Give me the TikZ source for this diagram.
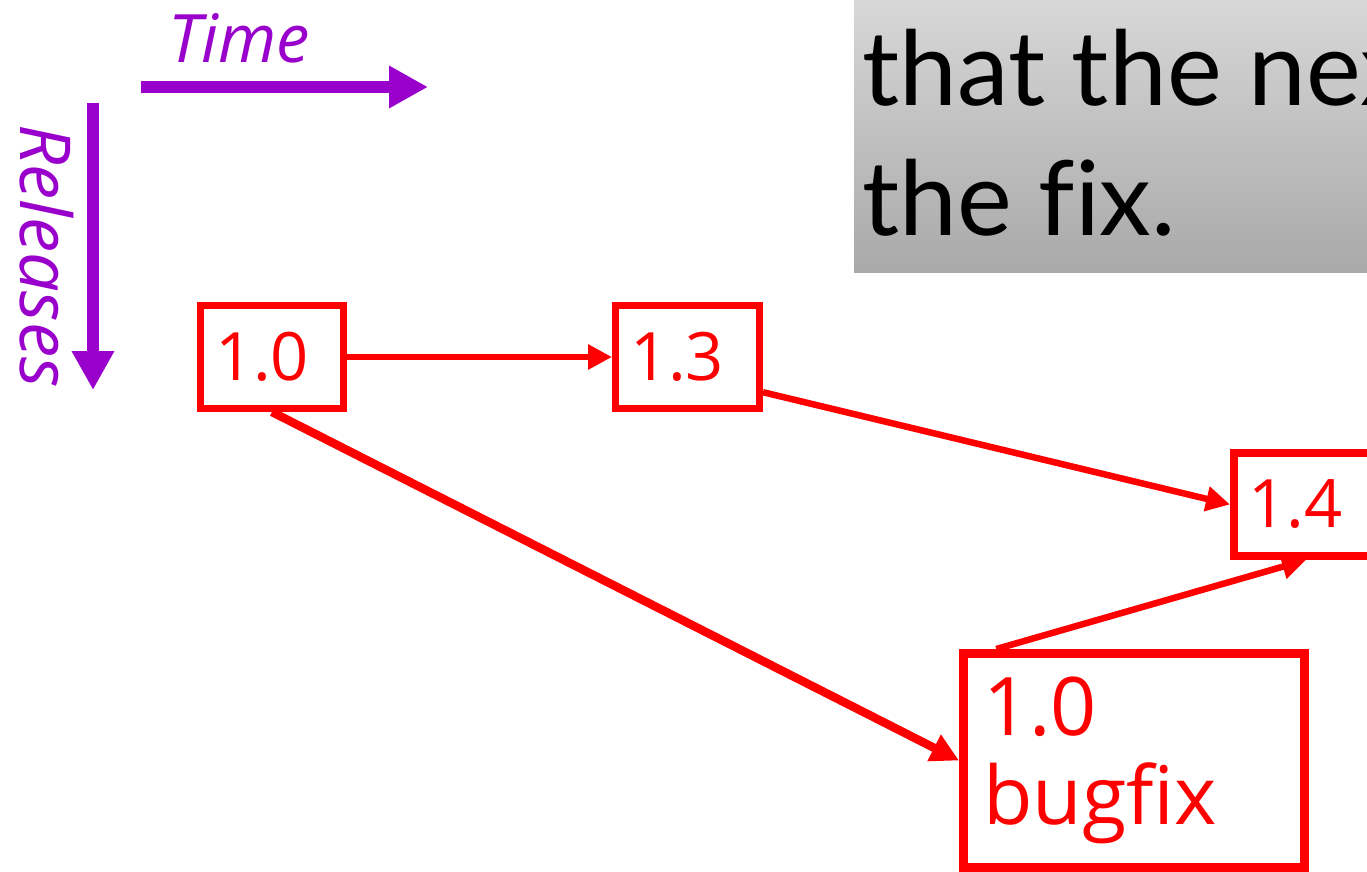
\documentclass[tikz,border=0pt]{standalone}
\usepackage{fontspec}
\setmainfont{Open Sans}
\newfontfamily\gillfont[Ligatures=NoCommon]{Lato}
\usetikzlibrary{arrows.meta}
\definecolor{vio}{RGB}{153,0,204}
\definecolor{rd}{RGB}{255,0,0}
\definecolor{grtop}{RGB}{214,215,214}
\definecolor{grbot}{RGB}{168,169,168}
\begin{document}
\begin{tikzpicture}[x=0.02cm,y=-0.02cm,
  ver/.style={draw=rd, text=rd, line width=0.14cm, minimum height=2.06cm,
    inner xsep=0.29cm, inner ysep=0pt, align=left, font=\fontsize{38}{44}\selectfont},
  axis/.style={draw=vio, line width=0.26cm, -{Triangle[length=0.78cm,width=0.8cm]}},
  link/.style={draw=rd, line width=0.13cm, -{Triangle[length=0.48cm,width=0.48cm]}},
  biglink/.style={draw=rd, line width=0.17cm, -{Triangle[length=0.56cm,width=0.56cm]}},
  axlabel/.style={text=vio, inner sep=0pt, font=\itshape\fontsize{38}{42}\selectfont},
  slide/.style={inner sep=0pt, text=black, font=\gillfont\fontsize{59}{74}\selectfont}]
\useasboundingbox (0,0) rectangle (1367,872);
\clip (0,0) rectangle (1367,872);
% grey slide box
\shade[top color=grtop, bottom color=grbot] (854,0) rectangle (1400,272);
\node[slide, anchor=base west] (l1) at (862,105) {that the nex};
\node[slide, anchor=base west] (l2) at (862,235) {the fix.};
% axes
\coordinate (t0) at (141,87);
\coordinate (t1) at (428,87);
\coordinate (r0) at (93,103);
\coordinate (r1) at (93,390);
\draw[axis] (t0) -- (t1);
\draw[axis] (r0) -- (r1);
\node[axlabel, anchor=base west] (time) at (168,62) {Time};
\node[axlabel, anchor=base west, rotate=-90, font=\itshape\fontsize{40}{44}\selectfont] (rel) at (20,124) {Releases};
% release boxes
\node[ver, minimum width=2.86cm, text width=2.28cm] (n10) at (272,357) {1.0};
\node[ver, minimum width=2.88cm, text width=2.30cm] (n13) at (687.5,357) {1.3};
\node[ver, line width=0.16cm, minimum width=2.88cm, text width=2.30cm] (n14) at (1306,504.5) {1.4};
\node[ver, line width=0.18cm, minimum width=6.82cm, minimum height=4.28cm,
  inner xsep=0.39cm, text width=6.04cm, font=\fontsize{46}{51}\selectfont] (bug) at (1134,760.5) {1.0\\bugfix};
% connectors
\draw[link] (n10.east) -- (n13.west);
\draw[link] (n13.-25.6) -- (n14.west);
\draw[biglink] (n10.south) -- (bug.west);
\draw[link] (bug.141.7) -- (n14.south);
\end{tikzpicture}
\end{document}
